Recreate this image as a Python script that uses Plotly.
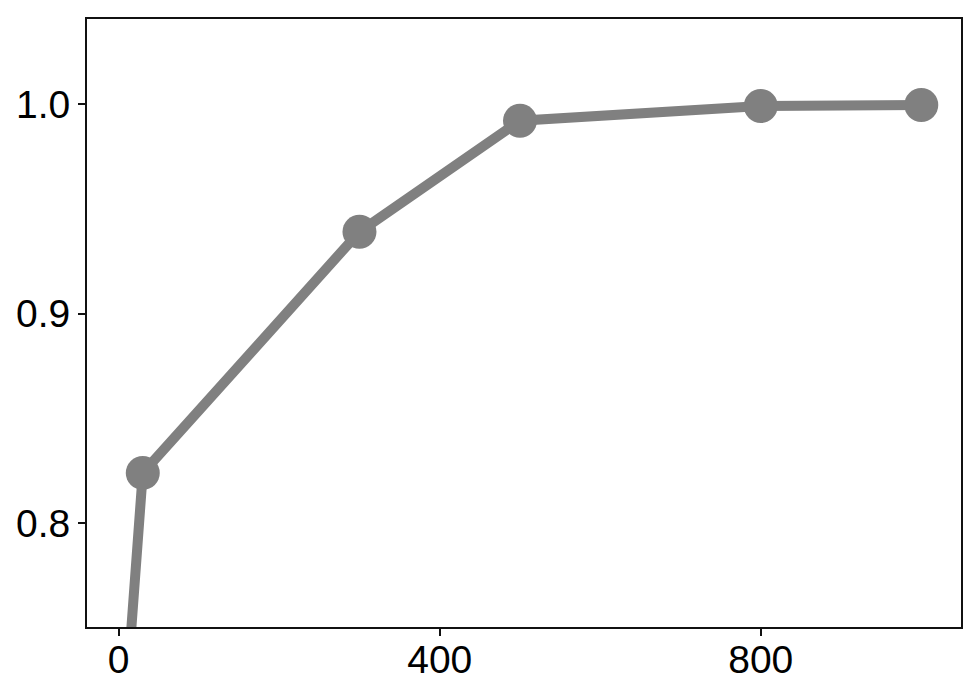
import plotly.graph_objects as go

x_vals = [10, 30, 300, 500, 800, 1000]
y_vals = [0.72, 0.824, 0.939, 0.992, 0.999, 0.9995]
x_ticks = [0, 400, 800]
y_ticks = [0.8, 0.9, 1.0]
y_tick_text = ["0.8", "0.9", "1.0"]

fig = go.Figure()
fig.add_trace(go.Scatter(
    x=x_vals, y=y_vals, mode="lines+markers",
    line=dict(color="#808080", width=10),
    marker=dict(color="#808080", size=34),
    showlegend=False,
))

axis_common = dict(
    showline=True, linecolor="#111111", linewidth=2, mirror=True,
    ticks="outside", ticklen=7, tickwidth=2, tickcolor="#111111",
    showgrid=False, zeroline=False, automargin=False,
    tickfont=dict(family="Liberation Sans, Arial, sans-serif", size=39, color="black"),
)

# page body adds ~8px offset; compensate in size and margins
fig.update_layout(
    template="none",
    width=972, height=687,
    margin=dict(l=79, r=19, t=11, b=68),
    paper_bgcolor="white", plot_bgcolor="white",
    xaxis=dict(range=[-39.5, 1049.5], tickvals=x_ticks, ticklabelstandoff=-10, **axis_common),
    yaxis=dict(range=[0.7505, 1.0405], tickvals=y_ticks, ticktext=y_tick_text, ticklabelstandoff=0, **axis_common),
)

fig.write_html("out.html")
